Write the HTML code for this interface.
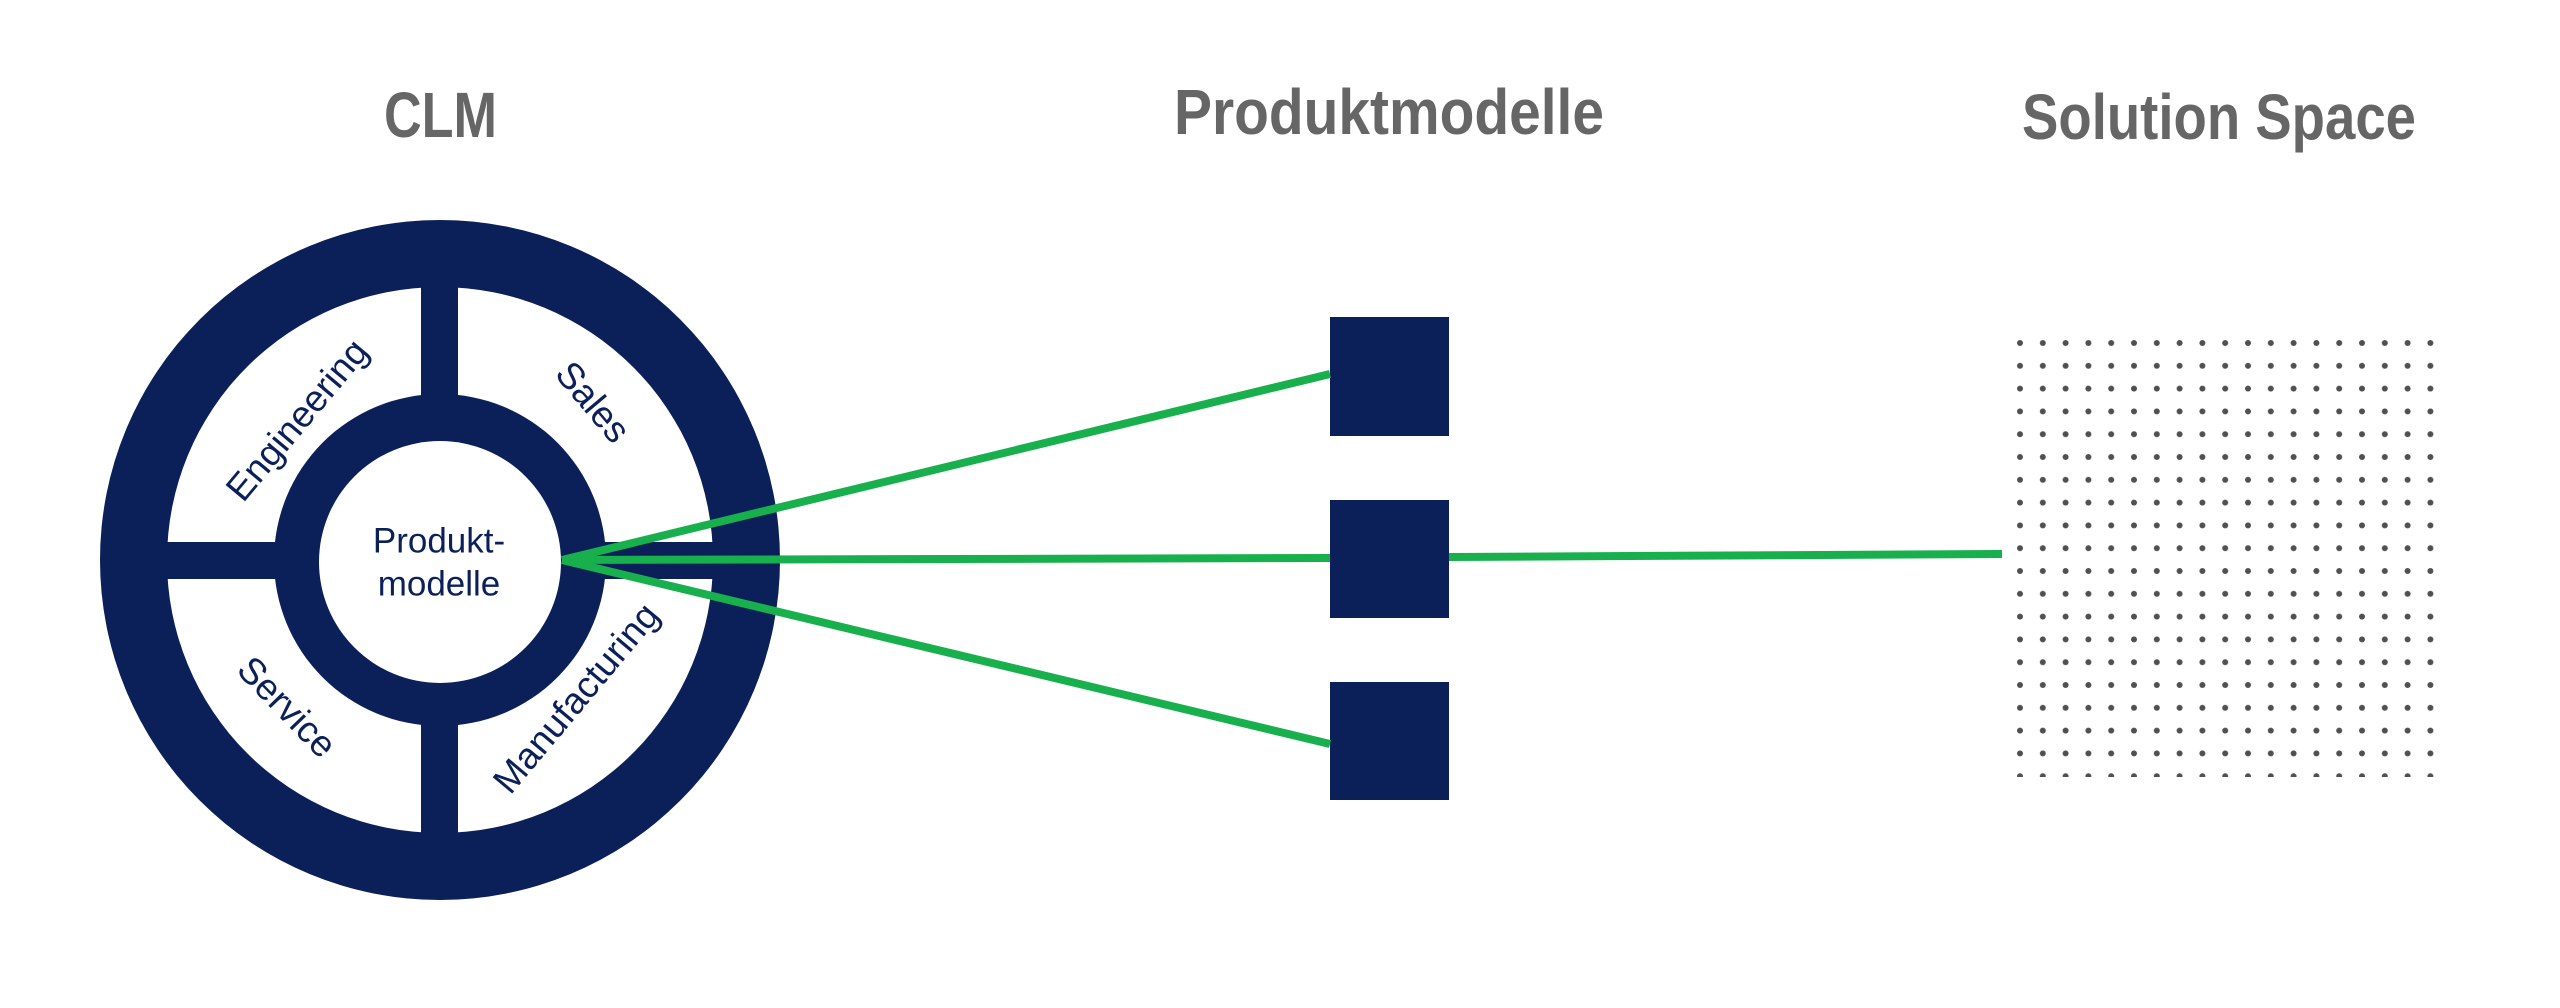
<!DOCTYPE html>
<html><head><meta charset="utf-8"><style>
html,body{margin:0;padding:0;background:#fff;}
svg{display:block;}
</style></head><body>
<svg width="2560" height="1008" viewBox="0 0 2560 1008" xmlns="http://www.w3.org/2000/svg">
<defs>
<pattern id="dots" x="2008.6" y="331.6" width="22.8" height="22.8" patternUnits="userSpaceOnUse">
<circle cx="11.4" cy="11.4" r="3" fill="#505050"/>
</pattern>
</defs>
<g font-family="Liberation Sans, sans-serif" font-weight="bold" fill="#666" font-size="64">
<text x="384" y="137" textLength="113" lengthAdjust="spacingAndGlyphs">CLM</text>
<text x="1174" y="134" textLength="430" lengthAdjust="spacingAndGlyphs">Produktmodelle</text>
<text x="2022" y="139" textLength="394" lengthAdjust="spacingAndGlyphs">Solution Space</text>
</g>
<circle cx="440" cy="560" r="340" fill="#0b2059"/>
<circle cx="440" cy="560" r="273" fill="#fff"/>
<circle cx="440" cy="560" r="166" fill="#0b2059"/>
<circle cx="440" cy="562" r="121" fill="#fff"/>
<rect x="421" y="287" width="37" height="108" fill="#0b2059"/>
<rect x="421" y="725" width="37" height="110" fill="#0b2059"/>
<rect x="166" y="542" width="110" height="37" fill="#0b2059"/>
<rect x="604" y="542" width="110" height="37" fill="#0b2059"/>
<g font-family="Liberation Sans, sans-serif" fill="#0b2059" font-size="35" text-anchor="middle" dominant-baseline="central">
<text x="439" y="541">Produkt-</text>
<text x="439" y="584">modelle</text>
<text transform="translate(297,420) rotate(-50)" font-size="37">Engineering</text>
<text transform="translate(593,402) rotate(50)" font-size="37">Sales</text>
<text transform="translate(287,707) rotate(46)" font-size="37">Service</text>
<text transform="translate(576,698) rotate(-50)" font-size="37">Manufacturing</text>
</g>
<rect x="1330" y="317" width="119" height="119" fill="#0b2059"/>
<rect x="1330" y="500" width="119" height="118" fill="#0b2059"/>
<rect x="1330" y="682" width="119" height="118" fill="#0b2059"/>
<g stroke="#17b04c" stroke-width="8" stroke-linecap="butt" fill="none">
<line x1="562" y1="560" x2="1330" y2="374"/>
<line x1="562" y1="560" x2="1330" y2="558"/>
<line x1="562" y1="560" x2="1330" y2="744"/>
<line x1="1449" y1="557" x2="2002" y2="554"/>
</g>
<rect x="2008" y="331" width="434" height="446" fill="url(#dots)"/>
</svg>
</body></html>
